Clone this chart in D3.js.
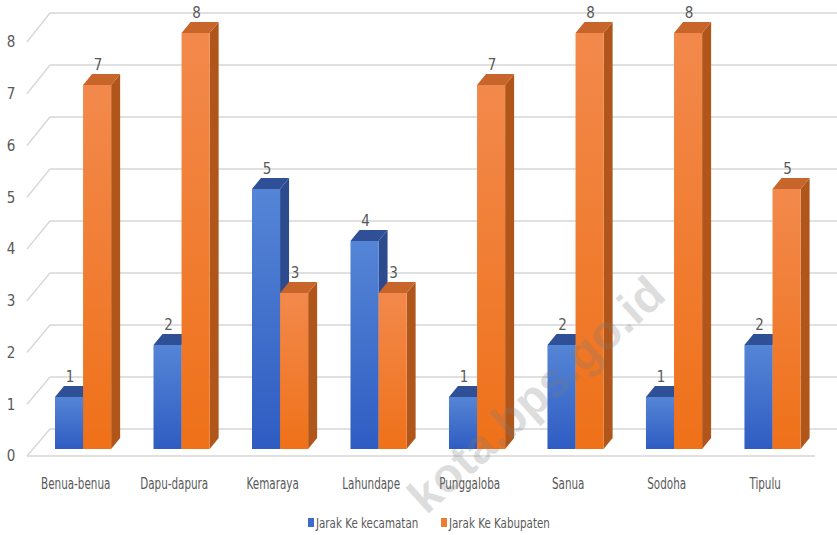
<!DOCTYPE html>
<html>
<head>
<meta charset="utf-8">
<script src="https://cdn.jsdelivr.net/npm/d3@7"></script>
<style>
  html, body { margin: 0; padding: 0; background: #fff; }
  svg { display: block; }
</style>
</head>
<body>
<svg id="chart" width="837" height="535"></svg>
<script>
const categories = ["Benua-benua","Dapu-dapura","Kemaraya","Lahundape","Punggaloba","Sanua","Sodoha","Tipulu"];
const seriesNames = ["Jarak Ke kecamatan","Jarak Ke Kabupaten"];
const kecamatan = [1,2,5,4,1,2,1,2];
const kabupaten = [7,8,3,3,7,8,8,5];
const yTicks = [0,1,2,3,4,5,6,7,8];
const watermark = "kota.bps.go.id";

const svg = d3.select("#chart");
const W = 837, H = 535;
const fontFam = "'Liberation Sans Narrow','DejaVu Sans Condensed','Liberation Sans',sans-serif";
const textColor = "#595959";

// scales
const yBar = d3.scaleLinear().domain([0, 8]).range([449, 33]);
const yFront = d3.scaleLinear().domain([0, 8]).range([456, 42]);
const yBack = d3.scaleLinear().domain([0, 8]).range([429, 13]);
const x0 = d3.scaleBand().domain(categories).range([55, 800.6]).paddingInner(0.43).paddingOuter(0);
const x1 = d3.scaleBand().domain(seriesNames).range([0, x0.bandwidth()]);
const depthX = 9, depthY = -11;

// gradients
const defs = svg.append("defs");
function vgrad(id, c1, c2) {
  const g = defs.append("linearGradient").attr("id", id).attr("x1", 0).attr("y1", 0).attr("x2", 0).attr("y2", 1);
  g.append("stop").attr("offset", "0%").attr("stop-color", c1);
  g.append("stop").attr("offset", "100%").attr("stop-color", c2);
}
vgrad("gBlue", "#5585d6", "#2f5cc2");
vgrad("gOrange", "#f2894c", "#ef7119");

const colors = {
  "Jarak Ke kecamatan": { front: "url(#gBlue)", top: "#2f5096", side: "#2c4a8e", legend: "#3d6bcc" },
  "Jarak Ke Kabupaten": { front: "url(#gOrange)", top: "#c7652b", side: "#b0561b", legend: "#ed7d31" }
};

// gridlines: back wall and side wall
const grid = svg.append("g");
yTicks.forEach(v => {
  grid.append("line")
    .attr("x1", 50).attr("x2", W).attr("y1", yBack(v)).attr("y2", yBack(v))
    .attr("stroke", "#d6d6d6").attr("stroke-width", 1.6);
  grid.append("line")
    .attr("x1", 27).attr("y1", yFront(v)).attr("x2", 50).attr("y2", yBack(v))
    .attr("stroke", "#d6d6d6").attr("stroke-width", 1.3);
});
// floor front edge
grid.append("line").attr("x1", 27).attr("x2", 815).attr("y1", yFront(0)).attr("y2", yFront(0))
  .attr("stroke", "#d6d6d6").attr("stroke-width", 1.6);

// y tick labels
svg.append("g").selectAll("text").data(yTicks).join("text")
  .attr("x", 11).attr("y", d => yFront(d))
  .attr("dy", "0.35em").attr("text-anchor", "middle")
  .attr("font-family", fontFam).attr("font-size", 15).attr("fill", textColor)
  .text(d => d);

// bars
const data = categories.map((c, i) => ({ cat: c, vals: [
  { s: seriesNames[0], v: kecamatan[i] },
  { s: seriesNames[1], v: kabupaten[i] }
]}));

const bars = svg.append("g");
data.forEach(d => {
  d.vals.forEach(b => {
    const x = x0(d.cat) + x1(b.s);
    const w = x1.bandwidth();
    const yt = yBar(b.v), yb = yBar(0);
    const col = colors[b.s];
    const g = bars.append("g");
    g.append("polygon")
      .attr("points", [[x + w, yt], [x + w + depthX, yt + depthY], [x + w + depthX, yb + depthY], [x + w, yb]].map(p => p.join(",")).join(" "))
      .attr("fill", col.side);
    g.append("polygon")
      .attr("points", [[x, yt], [x + depthX, yt + depthY], [x + w + depthX, yt + depthY], [x + w, yt]].map(p => p.join(",")).join(" "))
      .attr("fill", col.top);
    g.append("rect")
      .attr("x", x).attr("y", yt).attr("width", w).attr("height", yb - yt)
      .attr("fill", col.front);
  });
});

// value labels
const labels = svg.append("g");
data.forEach(d => {
  d.vals.forEach(b => {
    const x = x0(d.cat) + x1(b.s) + x1.bandwidth() / 2 + 1;
    labels.append("text")
      .attr("x", x).attr("y", yBar(b.v) + depthY - 4)
      .attr("text-anchor", "middle")
      .attr("font-family", fontFam).attr("font-size", 15).attr("fill", textColor)
      .text(b.v);
  });
});

// category labels
svg.append("g").selectAll("text").data(categories).join("text")
  .attr("transform", d => `translate(${x0(d) + 20.7},489) scale(0.77,1)`)
  .attr("text-anchor", "middle")
  .attr("font-family", fontFam).attr("font-size", 15).attr("fill", textColor)
  .text(d => d);

// legend
const leg = svg.append("g");
const legX = [308, 441];
seriesNames.forEach((s, i) => {
  leg.append("rect").attr("x", legX[i]).attr("y", 518).attr("width", 6).attr("height", 9)
    .attr("fill", colors[s].legend);
  leg.append("text").attr("transform", `translate(${legX[i] + 8},527.5) scale(0.82,1)`)
    .attr("font-family", fontFam).attr("font-size", 14).attr("fill", textColor)
    .text(s);
});

// watermark
svg.append("text")
  .attr("transform", "translate(668,298) rotate(-42)")
  .attr("text-anchor", "end")
  .attr("font-family", "'Liberation Sans',Arial,sans-serif")
  .attr("font-weight", "bold").attr("font-size", 48)
  .attr("fill", "#7a7a7a").attr("fill-opacity", 0.25)
  .text(watermark);
</script>
</body>
</html>
